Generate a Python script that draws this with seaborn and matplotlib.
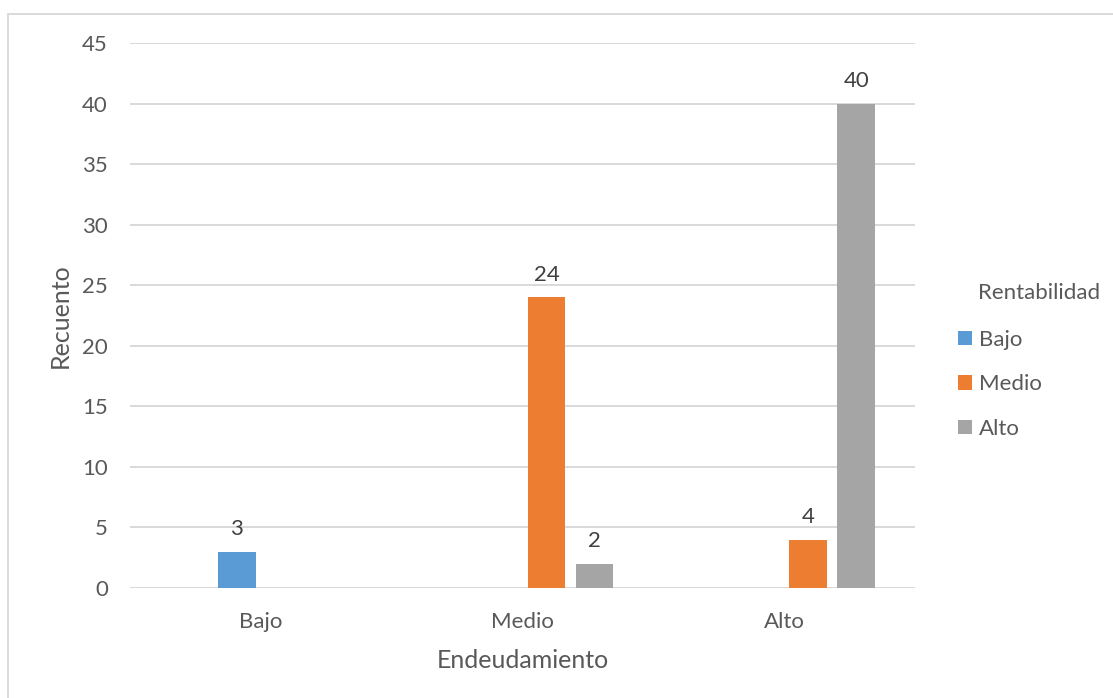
import matplotlib
matplotlib.use("Agg")
import matplotlib.pyplot as plt
from matplotlib.lines import Line2D
from matplotlib.patches import Patch
import seaborn as sns
import pandas as pd

# Cross-tabulated counts: Endeudamiento (x) by Rentabilidad (hue)
endeudamiento = ["Bajo", "Medio", "Alto"]
rentabilidad = ["Bajo", "Medio", "Alto"]
recuento_bajo = [3, 0, 0]
recuento_medio = [0, 24, 4]
recuento_alto = [0, 2, 40]

colores = {"Bajo": "#5B9BD5", "Medio": "#ED7D31", "Alto": "#A5A5A5"}

# The first slot in each group is an empty (missing) level with no bars
slot_vacio = " "

filas = []
for nivel, valores in zip(rentabilidad, [recuento_bajo, recuento_medio, recuento_alto]):
    for cat, v in zip(endeudamiento, valores):
        filas.append({"Endeudamiento": cat, "Rentabilidad": nivel, "Recuento": v})
df = pd.DataFrame(filas)

sns.set_style("white")
plt.rcParams["font.family"] = ["Lato", "DejaVu Sans"]

TXT = "#595959"
GRID = "#D9D9D9"

fig = plt.figure(figsize=(11.13, 6.98), dpi=100)
ax = fig.add_axes([130 / 1113, 1 - 588 / 698, 785 / 1113, 545 / 698])

paleta = dict(colores)
paleta[slot_vacio] = "white"
sns.barplot(
    data=df, x="Endeudamiento", y="Recuento", hue="Rentabilidad",
    order=endeudamiento, hue_order=[slot_vacio] + rentabilidad,
    palette=paleta, saturation=1, width=0.734, gap=0.21, linewidth=0,
    errorbar=None, legend=False, ax=ax,
)

ax.set_ylim(0, 45)
ax.set_yticks(range(0, 46, 5))
ax.set_xlim(-0.5, 2.5)
ax.yaxis.grid(True, color=GRID, linewidth=1.4)
ax.set_axisbelow(True)
for s in ax.spines.values():
    s.set_visible(False)
ax.tick_params(axis="both", length=0, labelsize=16, labelcolor=TXT)
ax.tick_params(axis="y", pad=16)
ax.tick_params(axis="x", pad=17)

ax.set_xlabel("Endeudamiento", fontsize=18, color=TXT)
ax.set_ylabel("Recuento", fontsize=18, color=TXT)
ax.xaxis.set_label_coords(0.5, -0.112)
ax.yaxis.set_label_coords(-0.074, 0.5)

# Value labels on the non-empty bars
for cont in ax.containers:
    vals = cont.datavalues
    labels = [f"{v:g}" if v > 0 else "" for v in vals]
    ax.bar_label(cont, labels=labels, padding=9, fontsize=16, color="#404040")

# Legend
handles = [Patch(facecolor=colores[n], edgecolor="none", label=n) for n in rentabilidad]
leg = fig.legend(
    handles=handles, loc="upper left", bbox_to_anchor=(958 / 1113, 1 - 330 / 698),
    frameon=False, fontsize=16, handlelength=0.63, handleheight=0.63,
    handletextpad=0.3, labelspacing=1.1, borderpad=0, borderaxespad=0,
)
for t in leg.get_texts():
    t.set_color(TXT)
fig.text(978 / 1113, 1 - 293 / 698, "Rentabilidad", fontsize=16, color=TXT,
         ha="left", va="center")

# Chart area border (left and top edges)
fig.add_artist(Line2D([8 / 1113, 8 / 1113], [0, 1 - 14 / 698], transform=fig.transFigure,
                      color=GRID, linewidth=1.4))
fig.add_artist(Line2D([8 / 1113, 1], [1 - 14 / 698, 1 - 14 / 698], transform=fig.transFigure,
                      color=GRID, linewidth=1.4))

fig.savefig("out.png", dpi=100)
